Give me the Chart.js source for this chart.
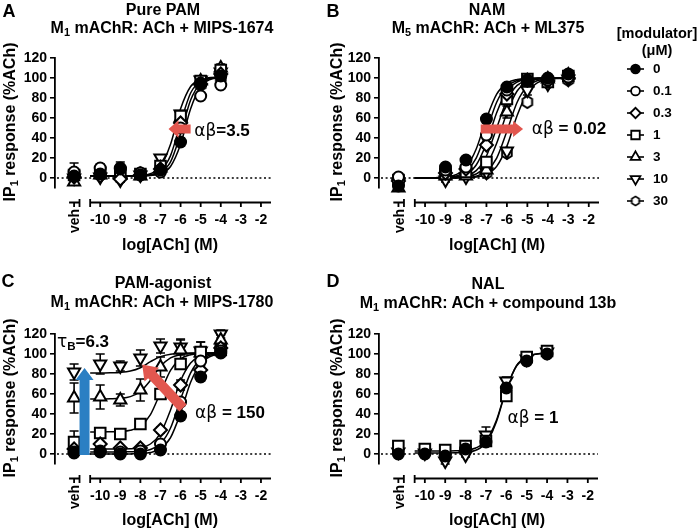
<!DOCTYPE html>
<html lang="en">
<head>
<meta charset="UTF-8">
<title>mAChR allosteric modulator profiles</title>
<script src="https://cdn.jsdelivr.net/npm/chart.js"></script>
<style>
  html, body { margin: 0; padding: 0; background: #fff; }
  #fig {
    position: relative; width: 699px; height: 529px; overflow: hidden;
    font-family: 'Liberation Sans', Arial, sans-serif; color: #000;
  }
  #fig canvas { position: absolute; left: 0; top: 0; }
  .t {
    position: absolute; transform: translate(-50%, -50%);
    white-space: nowrap; line-height: 1; font-weight: bold;
  }
  .t sub { font-size: 0.68em; vertical-align: baseline; position: relative; top: 0.3em; }
  .letter { font-size: 18px; }
  .title { font-size: 16px; }
  .axt { font-size: 16px; }
  .ylab { transform: translate(-50%, -50%) rotate(-90deg); }
  .ann { font-size: 17px; }
  .ann .g { font-weight: normal; font-family: 'DejaVu Sans', sans-serif; }
  .leg { font-size: 14.5px; }
</style>
</head>
<body>
<div id="fig">
  <canvas id="panelA" width="699" height="529"></canvas>
  <canvas id="panelB" width="699" height="529"></canvas>
  <canvas id="panelC" width="699" height="529"></canvas>
  <canvas id="panelD" width="699" height="529"></canvas>

  <div class="t letter" style="left:9px;top:11px">A</div>
  <div class="t letter" style="left:333px;top:11px">B</div>
  <div class="t letter" style="left:8px;top:281px">C</div>
  <div class="t letter" style="left:333px;top:281px">D</div>

  <div class="t title" style="left:163px;top:10px">Pure PAM</div>
  <div class="t title" style="left:162px;top:28px">M<sub>1</sub> mAChR: ACh + MIPS-1674</div>
  <div class="t title" style="left:487px;top:10px">NAM</div>
  <div class="t title" style="left:488px;top:28px">M<sub>5</sub> mAChR: ACh + ML375</div>
  <div class="t title" style="left:163px;top:283px">PAM-agonist</div>
  <div class="t title" style="left:162px;top:302px">M<sub>1</sub> mAChR: ACh + MIPS-1780</div>
  <div class="t title" style="left:488px;top:284px">NAL</div>
  <div class="t title" style="left:488px;top:303px">M<sub>1</sub> mAChR: ACh + compound 13b</div>

  <div class="t axt ylab" style="left:10px;top:122px">IP<sub>1</sub> response (%ACh)</div>
  <div class="t axt ylab" style="left:337px;top:122px">IP<sub>1</sub> response (%ACh)</div>
  <div class="t axt ylab" style="left:10px;top:398px">IP<sub>1</sub> response (%ACh)</div>
  <div class="t axt ylab" style="left:337px;top:398px">IP<sub>1</sub> response (%ACh)</div>

  <div class="t axt" style="left:170px;top:245px">log[ACh] (M)</div>
  <div class="t axt" style="left:497px;top:245px">log[ACh] (M)</div>
  <div class="t axt" style="left:170px;top:520px">log[ACh] (M)</div>
  <div class="t axt" style="left:497px;top:520px">log[ACh] (M)</div>

  <div class="t ann" style="left:222px;top:130px"><span class="g">αβ</span>=3.5</div>
  <div class="t ann" style="left:569px;top:128px"><span class="g">αβ</span> = 0.02</div>
  <div class="t ann" style="left:83px;top:341px"><span class="g">τ</span><sub>B</sub>=6.3</div>
  <div class="t ann" style="left:230px;top:412px"><span class="g">αβ</span> = 150</div>
  <div class="t ann" style="left:533px;top:417px"><span class="g">αβ</span> = 1</div>

  <div class="t leg" style="left:657px;top:33px">[modulator]</div>
  <div class="t leg" style="left:657px;top:50px">(μM)</div>
</div>

<script>
  // ---- data ----
  const concLabels = ['0', '0.1', '0.3', '1', '3', '10', '30'];
  const xTicks = [-10, -9, -8, -7, -6, -5, -4, -3, -2];
  const yTicks = [0, 20, 40, 60, 80, 100, 120];

  // A: pure PAM, M1 + MIPS-1674
  const pamX = ['veh', -10, -9, -8, -7, -6, -5, -4];
  const pamSeries = ['0', '0.1', '0.3', '1', '3', '10', '30'];
  const pamResp = [
    [2, 4, 9, 3, 8, 36, 95, 102],
    [6, 10, 10, 5, 6, 50, 82, 93],
    [1, 2, -1, 3, 9, 55, 94, 104],
    [3, 5, 5, 4, 12, 62, 97, 108],
    [-4, 3, 3, 2, 10, 60, 97, 110],
    [0, 1, -2, 3, 20, 64, 98, 106],
    [4, 8, 7, 5, 9, 52, 93, 100]
  ];
  const pamErr = [
    [2, 3, 4, 2, 2, 4, 3, 4],
    [9, 4, 6, 3, 2, 4, 3, 3],
    [2, 2, 3, 2, 2, 3, 2, 3],
    [3, 3, 3, 3, 3, 5, 2, 5],
    [3, 2, 2, 2, 2, 3, 2, 4],
    [2, 2, 2, 2, 3, 3, 2, 3],
    [3, 3, 4, 3, 2, 3, 2, 3]
  ];
  const pamCurveX = [-10.5, -10, -9.5, -9, -8.5, -8, -7.5, -7, -6.5, -6, -5.5, -5, -4.5, -4];
  const pamCurves = [
    [2, 2, 2, 2, 2.1, 2.5, 4.3, 11.5, 33.7, 69.3, 91.5, 98.7, 100.5, 100.9],
    [2, 2, 2, 2, 2.1, 2.3, 3.3, 7.4, 22.4, 55.2, 85, 97, 100, 100.8],
    [2, 2, 2, 2, 2, 2.2, 2.8, 5.6, 16.1, 44.2, 78, 94.8, 99.5, 100.7],
    [2, 2, 2, 2, 2, 2.1, 2.5, 4.3, 11.5, 33.7, 69.3, 91.5, 98.7, 100.5]
  ];

  // B: NAM, M5 + ML375
  const namX = ['veh', -9, -8, -7, -6, -5, -4, -3];
  const namSeries = ['0', '0.1', '0.3', '1', '3', '10', '30'];
  const namResp = [
    [-8, 11, 18, 59, 91, 98, 100, 104],
    [1, 8, 11, 43, 88, 97, 98, 101],
    [-3, 5, 9, 33, 84, 98, 97, 100],
    [-2, 4, 6, 16, 79, 99, 96, 102],
    [-10, 2, 2, 8, 66, 95, 99, 103],
    [-5, -2, 1, 6, 27, 88, 94, 99],
    [-1, 3, 3, 5, 25, 76, 95, 98]
  ];
  const namErr = [
    [3, 3, 3, 4, 3, 2, 2, 2],
    [2, 3, 2, 4, 3, 2, 2, 2],
    [2, 2, 2, 3, 3, 2, 3, 2],
    [3, 2, 2, 3, 4, 2, 2, 2],
    [3, 2, 2, 2, 6, 3, 2, 2],
    [2, 2, 2, 2, 3, 5, 3, 2],
    [2, 2, 2, 2, 3, 3, 2, 2]
  ];
  const namCurveX = [-10.5, -10, -9.5, -9, -8.5, -8, -7.5, -7, -6.5, -6, -5.5, -5, -4.5, -4, -3.5, -3];
  const namCurves = [
    [0, 0.1, 0.3, 0.9, 3.2, 10.4, 29, 59.4, 83.8, 94.8, 98.5, 99.6, 99.9, 100, 100, 100],
    [0, 0, 0.2, 0.6, 1.9, 6.5, 19.9, 46.8, 75.8, 91.7, 97.5, 99.3, 99.8, 100, 100, 100],
    [0, 0, 0.1, 0.3, 1.2, 4.0, 13, 34.7, 65.3, 87, 96, 98.8, 99.6, 99.9, 100, 100],
    [0, 0, 0, 0.2, 0.6, 2.2, 7.4, 22, 50, 78, 92.6, 97.8, 99.4, 99.8, 100, 100],
    [0, 0, 0, 0.1, 0.3, 1.2, 4.0, 13, 34.7, 65.3, 87, 96, 98.8, 99.6, 99.9, 100],
    [0, 0, 0, 0, 0.2, 0.6, 1.9, 6.5, 19.9, 46.8, 75.8, 91.7, 97.5, 99.3, 99.8, 100],
    [0, 0, 0, 0, 0.1, 0.3, 1.0, 3.6, 11.6, 31.9, 62.4, 85.5, 95.4, 98.6, 99.6, 99.9]
  ];

  // C: PAM-agonist, M1 + MIPS-1780
  const agoX = ['veh', -10, -9, -8, -7, -6, -5, -4];
  const agoSeries = ['0', '0.1', '0.3', '1', '3', '10'];
  const agoResp = [
    [1, 2, 0, 0, 4, 38, 77, 101],
    [2, 3, 2, 3, 10, 52, 93, 103],
    [5, 10, 6, 6, 24, 69, 84, 106],
    [12, 21, 20, 30, 60, 90, 102, 104],
    [56, 57, 54, 64, 87, 104, 101, 114],
    [82, 90, 88, 96, 108, 107, 103, 120]
  ];
  const agoErr = [
    [1, 2, 2, 2, 2, 4, 4, 3],
    [2, 2, 2, 2, 3, 4, 4, 3],
    [2, 2, 2, 2, 3, 5, 4, 4],
    [11, 3, 3, 3, 4, 5, 10, 4],
    [15, 12, 6, 11, 10, 10, 4, 5],
    [8, 10, 5, 8, 7, 8, 9, 4]
  ];
  const agoCurveX = [-10.5, -10, -9.5, -9, -8.5, -8, -7.5, -7, -6.5, -6, -5.5, -5, -4.5, -4];
  const agoCurves = [
    [0, 0, 0, 0, 0.1, 0.4, 1.5, 5.3, 16.4, 41, 71.7, 90.5, 97.8, 100],
    [2, 2, 2, 2.2, 2.3, 2.7, 4.5, 10.2, 26, 54.7, 81.2, 94.6, 99, 100.4],
    [5, 5, 5, 5.1, 5.3, 6.4, 10, 20.6, 44, 73.2, 91, 97.9, 100, 100.7],
    [22, 22, 22.2, 22.5, 23.7, 27.8, 39.4, 61.5, 83.6, 95.2, 99.3, 100.5, 101, 101],
    [55, 55, 55.2, 55.7, 57.4, 62.5, 73.7, 87.7, 96.2, 99.5, 100.5, 100.9, 101, 101],
    [81, 81, 81.2, 81.6, 82.9, 86.3, 92.3, 97.4, 99.8, 100.7, 101, 101, 101, 101]
  ];

  // D: NAL, M1 + compound 13b
  const nalX = ['veh', -10, -9, -8, -7, -6, -5, -4];
  const nalSeries = ['0', '1', '10'];
  const nalResp = [
    [0, 0, -2, 5, 12, 66, 93, 100],
    [8, 5, 4, 8, 13, 58, 97, 103],
    [2, 1, -7, -1, 19, 73, 95, 102]
  ];
  const nalErr = [
    [1, 2, 2, 2, 3, 4, 2, 2],
    [2, 2, 2, 2, 3, 3, 2, 2],
    [2, 2, 3, 2, 8, 4, 2, 2]
  ];
  const nalCurveX = [-10.5, -10, -9.5, -9, -8.5, -8, -7.5, -7, -6.5, -6, -5.5, -5, -4.5, -4];
  const nalCurves = [
    [1, 1, 1, 1.1, 1.3, 1.7, 3.7, 10.9, 31.4, 64.5, 88.3, 97.5, 100.1, 100.7],
    [3, 3, 3, 3, 3.2, 3.8, 6, 13, 33, 65, 88, 97, 100, 101]
  ];

  // ---- drawing ----
  const FONT = "'Liberation Sans', Arial, sans-serif";
  Chart.defaults.font.family = FONT;
  const VEH_X = -11.3;   // where the vehicle column sits on the log axis
  const X_MIN = -12.25, X_MAX = -1.5;

  function hexMarker(r, lw) {
    const c = document.createElement('canvas');
    const s = 2 * Math.ceil(r + lw);
    c.width = s; c.height = s;
    const g = c.getContext('2d');
    g.beginPath();
    for (let k = 0; k < 6; k++) {
      const a = -Math.PI / 2 + k * Math.PI / 3;
      const px = s / 2 + r * 0.92 * Math.cos(a), py = s / 2 + r * Math.sin(a);
      k ? g.lineTo(px, py) : g.moveTo(px, py);
    }
    g.closePath();
    g.fillStyle = '#fff'; g.fill();
    g.lineWidth = lw; g.strokeStyle = '#000'; g.stroke();
    return c;
  }

  const markerStyles = {
    '0':   { style: 'circle', fill: '#000', radius: 5.5 },
    '0.1': { style: 'circle', fill: '#fff', radius: 5.5 },
    '0.3': { style: 'rectRot', fill: '#fff', radius: 6.5 },
    '1':   { style: 'rect', fill: '#fff', radius: 7.5 },
    '3':   { style: 'triangle', fill: '#fff', radius: 7 },
    '10':  { style: 'triangle', rotation: 180, fill: '#fff', radius: 7 },
    '30':  { style: hexMarker(6, 2), legend: hexMarker(4.6, 1.7), fill: '#fff', radius: 6 }
  };

  function markerSets(xs, series, resp, err) {
    return series.map((lab, i) => {
      const st = markerStyles[lab];
      return {
        label: lab + ' µM',
        data: xs.map((xv, j) => ({ x: xv === 'veh' ? VEH_X : xv, y: resp[i][j] })),
        errors: err[i],
        showLine: false,
        pointStyle: st.style,
        pointRotation: st.rotation || 0,
        pointRadius: st.radius,
        pointBackgroundColor: st.fill,
        pointBorderColor: '#000',
        pointBorderWidth: 2,
        order: 1 + concLabels.indexOf(lab),
        clip: false
      };
    });
  }

  function curveSets(cx, curves) {
    return curves.map(c => ({
      data: cx.map((xv, j) => ({ x: xv, y: c[j] })),
      showLine: true,
      pointRadius: 0,
      borderColor: '#000',
      borderWidth: 1.5,
      cubicInterpolationMode: 'monotone',
      fill: false,
      order: 20,
      clip: false
    }));
  }

  // zero line, detached x axis with the separate "veh" stub
  const axisPlugin = {
    id: 'gpAxis',
    beforeDatasetsDraw(chart) {
      const { ctx, chartArea: a, scales: { y } } = chart;
      const y0 = y.getPixelForValue(0);
      ctx.save();
      ctx.strokeStyle = '#000';
      ctx.lineWidth = 1.5;
      ctx.setLineDash([2, 2.6]);
      ctx.beginPath();
      ctx.moveTo(a.left + 2, y0);
      ctx.lineTo(a.right, y0);
      ctx.stroke();
      ctx.restore();
    },
    afterDraw(chart) {
      const { ctx, chartArea: a, scales: { x } } = chart;
      const px = v => x.getPixelForValue(v);
      const ay = a.bottom + 14.5;
      ctx.save();
      ctx.strokeStyle = '#000';
      ctx.lineWidth = 1.8;
      ctx.beginPath();
      ctx.moveTo(px(-10.5), ay); ctx.lineTo(px(-1.5), ay);
      ctx.moveTo(px(-10.5), ay - 3.5); ctx.lineTo(px(-10.5), ay + 4.5);
      xTicks.forEach(v => { ctx.moveTo(px(v), ay); ctx.lineTo(px(v), ay + 4.5); });
      ctx.moveTo(px(VEH_X - 0.25), ay); ctx.lineTo(px(VEH_X + 0.27), ay);
      ctx.moveTo(px(VEH_X + 0.27), ay - 3.5); ctx.lineTo(px(VEH_X + 0.27), ay + 4.5);
      ctx.moveTo(px(VEH_X), ay); ctx.lineTo(px(VEH_X), ay + 4.5);
      ctx.stroke();
      ctx.translate(px(VEH_X) + 1.5, a.bottom + 33);
      ctx.rotate(-Math.PI / 2);
      ctx.font = 'bold 14px ' + FONT;
      ctx.fillStyle = '#000';
      ctx.textAlign = 'center';
      ctx.textBaseline = 'middle';
      ctx.fillText('veh', 0, 0);
      ctx.restore();
    }
  };

  const errorBarPlugin = {
    id: 'errBars',
    beforeDatasetsDraw(chart) {
      const { ctx, scales: { x, y } } = chart;
      ctx.save();
      ctx.strokeStyle = '#000';
      ctx.lineWidth = 1.6;
      chart.data.datasets.forEach(ds => {
        if (!ds.errors) return;
        ds.data.forEach((p, i) => {
          const e = ds.errors[i];
          if (p.y == null || !e) return;
          const px = x.getPixelForValue(p.x);
          const top = y.getPixelForValue(p.y + e), bot = y.getPixelForValue(p.y - e);
          ctx.beginPath();
          ctx.moveTo(px, top); ctx.lineTo(px, bot);
          ctx.moveTo(px - 4.5, top); ctx.lineTo(px + 4.5, top);
          ctx.moveTo(px - 4.5, bot); ctx.lineTo(px + 4.5, bot);
          ctx.stroke();
        });
      });
      ctx.restore();
    }
  };

  function arrowPlugin(list) {
    return {
      id: 'arrows',
      afterDatasetsDraw(chart) {
        const { ctx, scales: { x, y } } = chart;
        list.forEach(a => {
          const x1 = x.getPixelForValue(a.from[0]), y1 = y.getPixelForValue(a.from[1]);
          const x2 = x.getPixelForValue(a.to[0]), y2 = y.getPixelForValue(a.to[1]);
          const len = Math.hypot(x2 - x1, y2 - y1);
          ctx.save();
          ctx.translate(x1, y1);
          ctx.rotate(Math.atan2(y2 - y1, x2 - x1));
          ctx.fillStyle = a.color;
          ctx.beginPath();
          ctx.moveTo(0, -a.body);
          ctx.lineTo(len - a.headLen, -a.body);
          ctx.lineTo(len - a.headLen, -a.head);
          ctx.lineTo(len, 0);
          ctx.lineTo(len - a.headLen, a.head);
          ctx.lineTo(len - a.headLen, a.body);
          ctx.lineTo(0, a.body);
          ctx.closePath();
          ctx.fill();
          ctx.restore();
        });
      }
    };
  }

  const legendPlugin = {
    id: 'modLegend',
    afterDraw(chart) {
      const ctx = chart.ctx;
      ctx.save();
      concLabels.forEach((lab, i) => {
        const st = markerStyles[lab];
        const ly = 69 + 22 * i;
        ctx.strokeStyle = '#000';
        ctx.lineWidth = 1.6;
        ctx.beginPath();
        ctx.moveTo(627, ly); ctx.lineTo(644, ly);
        ctx.stroke();
        ctx.fillStyle = st.fill;
        ctx.lineWidth = 1.8;
        Chart.helpers.drawPoint(ctx, {
          pointStyle: st.legend || st.style,
          rotation: st.rotation || 0,
          radius: st.radius * 0.8,
          borderWidth: 1.8
        }, 635.5, ly);
        ctx.fillStyle = '#000';
        ctx.font = 'bold 13.5px ' + FONT;
        ctx.textAlign = 'left';
        ctx.textBaseline = 'middle';
        ctx.fillText(lab, 653, ly + 0.5);
      });
      ctx.restore();
    }
  };

  const tickFont = { size: 14, weight: 'bold', family: FONT };

  function makePanel(id, area, datasets, extra) {
    return new Chart(document.getElementById(id), {
      type: 'scatter',
      data: { datasets },
      options: {
        responsive: false,
        animation: false,
        events: [],
        layout: {
          padding: { left: area.left - 40, top: area.top, right: 699 - area.right, bottom: 529 - area.bottom - 40 }
        },
        plugins: { legend: { display: false }, tooltip: { enabled: false } },
        scales: {
          x: {
            type: 'linear', min: X_MIN, max: X_MAX,
            grid: { display: false, drawTicks: false },
            border: { display: false },
            afterFit: s => { s.height = 40; },
            afterBuildTicks: s => { s.ticks = xTicks.map(v => ({ value: v })); },
            ticks: { padding: 23.3, color: '#000', font: tickFont, maxRotation: 0, autoSkip: false,
                     callback: v => String(v) }
          },
          y: {
            type: 'linear', min: -10, max: 120,
            afterFit: s => { s.width = 40; },
            afterBuildTicks: s => { s.ticks = yTicks.map(v => ({ value: v })); },
            grid: { drawOnChartArea: false, drawTicks: true, tickLength: 5, color: '#000', lineWidth: 1.6 },
            border: { display: true, color: '#000', width: 1.8 },
            ticks: { padding: 3, color: '#000', font: tickFont, autoSkip: false, callback: v => String(v) }
          }
        }
      },
      plugins: [axisPlugin, errorBarPlugin].concat(extra)
    });
  }

  const RED = '#e2574f', BLUE = '#2b7fc3';

  makePanel('panelA', { left: 55, top: 58, right: 271, bottom: 188 },
    curveSets(pamCurveX, pamCurves).concat(markerSets(pamX, pamSeries, pamResp, pamErr)),
    [arrowPlugin([{ from: [-5.5, 49], to: [-6.6, 49], color: RED, body: 4.6, head: 8.7, headLen: 10 }])]);

  makePanel('panelB', { left: 379, top: 58, right: 599, bottom: 188 },
    curveSets(namCurveX, namCurves).concat(markerSets(namX, namSeries, namResp, namErr)),
    [arrowPlugin([{ from: [-7.28, 49], to: [-5.21, 49], color: RED, body: 4.5, head: 8, headLen: 10 }]), legendPlugin]);

  makePanel('panelC', { left: 55, top: 334, right: 271, bottom: 464 },
    curveSets(agoCurveX, agoCurves).concat(markerSets(agoX, agoSeries, agoResp, agoErr)),
    [arrowPlugin([
      { from: [-5.88, 46], to: [-7.91, 89.5], color: RED, body: 5, head: 10, headLen: 14 },
      { from: [-10.78, -1], to: [-10.78, 86], color: BLUE, body: 5, head: 9, headLen: 12 }
    ])]);

  makePanel('panelD', { left: 379, top: 334, right: 598, bottom: 464 },
    curveSets(nalCurveX, nalCurves).concat(markerSets(nalX, nalSeries, nalResp, nalErr)),
    []);
</script>
</body>
</html>
